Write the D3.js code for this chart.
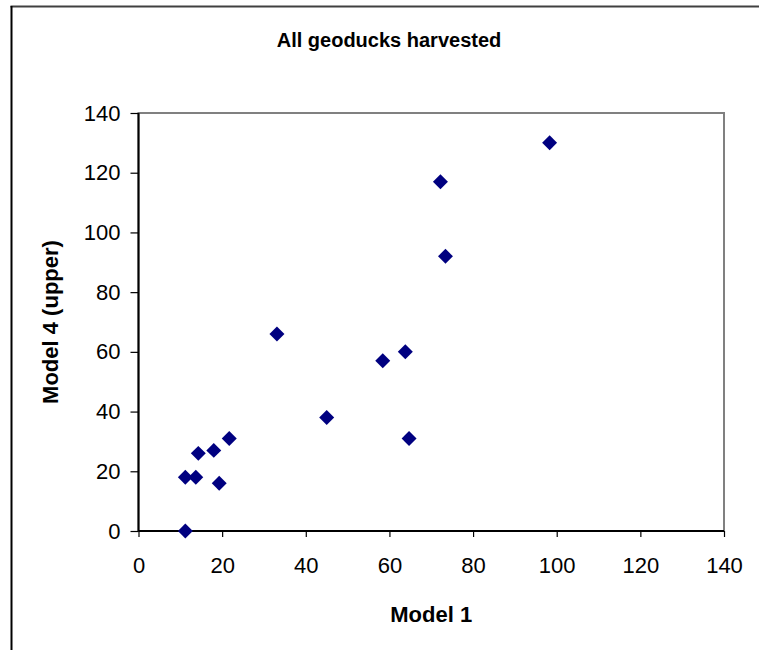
<!DOCTYPE html>
<html>
<head>
<meta charset="utf-8">
<script src="https://cdn.jsdelivr.net/npm/d3@7"></script>
<style>
  html, body { margin: 0; padding: 0; background: #fff; }
  svg { display: block; }
  text { font-family: "Liberation Sans", Arial, sans-serif; fill: #000; }
</style>
</head>
<body>
<svg id="chart" width="759" height="650"></svg>
<script>
const titleText = "All geoducks harvested";
const xLabel = "Model 1";
const yLabel = "Model 4 (upper)";
const model1 = [11.2, 11.2, 13.7, 14.3, 18.0, 19.3, 21.7, 33.1, 45.0, 58.4, 63.8, 64.7, 72.2, 73.4, 98.3];
const model4 = [0, 18, 18, 26, 27, 16, 31, 66, 38, 57, 60, 31, 117, 92, 130];
const xTicks = [0, 20, 40, 60, 80, 100, 120, 140];
const yTicks = [0, 20, 40, 60, 80, 100, 120, 140];

const svg = d3.select("#chart");
const plotL = 138.5, plotR = 724, plotT = 113, plotB = 531;

const x = d3.scaleLinear().domain([0, 140]).range([plotL, plotR]);
const y = d3.scaleLinear().domain([0, 140]).range([plotB, plotT]);

// outer frame (only top and left edges visible)
svg.append("line").attr("x1", 10.5).attr("x2", 759).attr("y1", 6.5).attr("y2", 6.5)
  .attr("stroke", "#404040").attr("stroke-width", 2);
svg.append("line").attr("x1", 11.5).attr("x2", 11.5).attr("y1", 6).attr("y2", 650)
  .attr("stroke", "#000").attr("stroke-width", 2);

// plot area border (grey)
svg.append("rect").attr("x", plotL).attr("y", plotT).attr("width", plotR - plotL).attr("height", plotB - plotT)
  .attr("fill", "none").attr("stroke", "#808080").attr("stroke-width", 2);

// x axis
const xAxis = svg.append("g").attr("transform", `translate(0,${plotB})`)
  .call(d3.axisBottom(x).tickValues(xTicks).tickSize(6).tickPadding(20).tickFormat(d3.format("d")));
xAxis.select(".domain").attr("stroke", "#000").attr("stroke-width", 2).attr("d", `M${plotL},0H${plotR}`);
xAxis.selectAll(".tick line").attr("stroke", "#000").attr("stroke-width", 1.2);
xAxis.selectAll(".tick text").style("font-size", "22px").attr("fill", "#000")
  .attr("font-family", "Liberation Sans, Arial, sans-serif");

// y axis
const yAxis = svg.append("g").attr("transform", `translate(${plotL},0)`)
  .call(d3.axisLeft(y).tickValues(yTicks).tickSize(8).tickPadding(10).tickFormat(d3.format("d")));
yAxis.select(".domain").attr("stroke", "#000").attr("stroke-width", 2).attr("d", `M0,${plotT}V${plotB}`);
yAxis.selectAll(".tick line").attr("stroke", "#000").attr("stroke-width", 1.2);
yAxis.selectAll(".tick text").style("font-size", "22px").attr("fill", "#000")
  .attr("font-family", "Liberation Sans, Arial, sans-serif");

// markers
const diamond = d3.symbol().type(d3.symbolSquare).size(112);
svg.append("g").selectAll("path").data(model1.map((v, i) => [v, model4[i]])).join("path")
  .attr("d", diamond)
  .attr("transform", d => `translate(${x(d[0])},${y(d[1])}) rotate(45)`)
  .attr("fill", "#000080");

// title
svg.append("text").attr("x", 389).attr("y", 47).attr("text-anchor", "middle")
  .style("font-size", "20px").style("font-weight", "bold").text(titleText);

// axis titles
svg.append("text").attr("x", (plotL + plotR) / 2).attr("y", 622).attr("text-anchor", "middle")
  .style("font-size", "22px").style("font-weight", "bold").text(xLabel);
svg.append("text").attr("transform", `translate(57.5,${(plotT + plotB) / 2}) rotate(-90)`)
  .attr("text-anchor", "middle")
  .style("font-size", "22px").style("font-weight", "bold").text(yLabel);
</script>
</body>
</html>
